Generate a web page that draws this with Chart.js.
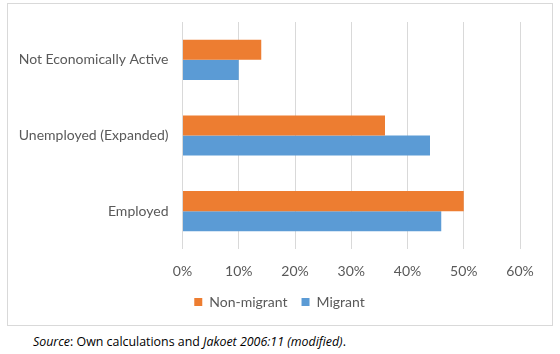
<!DOCTYPE html>
<html>
<head>
<meta charset="utf-8">
<script src="https://cdn.jsdelivr.net/npm/chart.js@4"></script>
<style>
  body { margin: 0; background: #fff; width: 560px; height: 354px; position: relative; overflow: hidden; }
  #frame { position: absolute; left: 7px; top: 3px; width: 544px; height: 321px; border: 1px solid #d9d9d9; }
  #wrap { position: absolute; left: 8px; top: 4px; width: 543px; height: 315px; }
  #source { position: absolute; left: 33px; top: 333px; font-family: "Open Sans", sans-serif; font-size: 12.4px; color: #000; white-space: nowrap; }
</style>
</head>
<body>
<div id="frame"></div>
<div id="wrap"><canvas id="chart"></canvas></div>
<div id="source"><i>Source</i>: Own calculations and <i>Jakoet 2006:11 (modified)</i>.</div>
<script>
const categories = ['Not Economically Active', 'Unemployed (Expanded)', 'Employed'];
const nonMigrant = [14, 36, 50];
const migrant = [10, 44, 46];
const tickValues = [0, 10, 20, 30, 40, 50, 60];

const font = { family: 'Lato, "Liberation Sans", sans-serif', size: 14 };

const ctx = document.getElementById('chart').getContext('2d');
const chart = new Chart(ctx, {
    type: 'bar',
    data: {
        labels: categories,
        datasets: [
            {
                label: 'Non-migrant',
                data: nonMigrant,
                backgroundColor: '#ED7D31',
                barPercentage: 1,
                categoryPercentage: 0.53
            },
            {
                label: 'Migrant',
                data: migrant,
                backgroundColor: '#5B9BD5',
                barPercentage: 1,
                categoryPercentage: 0.53
            }
        ]
    },
    options: {
        indexAxis: 'y',
        responsive: true,
        maintainAspectRatio: false,
        animation: false,
        layout: { padding: { left: 0, right: 0, top: 18, bottom: 0 } },
        scales: {
            x: {
                min: 0,
                max: 60,
                afterBuildTicks: (scale) => { scale.ticks = tickValues.map(v => ({ value: v })); },
                afterFit: (scale) => { scale.height = 32; },
                grid: { color: '#d9d9d9', drawTicks: false },
                border: { display: false },
                ticks: { color: '#595959', font: font, padding: 14, callback: (v) => v + '%' }
            },
            y: {
                afterFit: (scale) => { scale.width = 174.5; },
                grid: { display: false },
                border: { display: false },
                ticks: { color: '#595959', font: font, padding: 6 }
            },
            // empty right-hand axis, only reserves the space right of 60%
            yRight: {
                position: 'right',
                afterFit: (scale) => { scale.width = 31; },
                grid: { display: false },
                border: { display: false },
                ticks: { display: false }
            }
        },
        plugins: {
            legend: {
                position: 'bottom',
                labels: { color: '#595959', font: font, boxWidth: 8, boxHeight: 8, padding: 14 }
            },
            tooltip: { enabled: false }
        }
    }
});
</script>
</body>
</html>
